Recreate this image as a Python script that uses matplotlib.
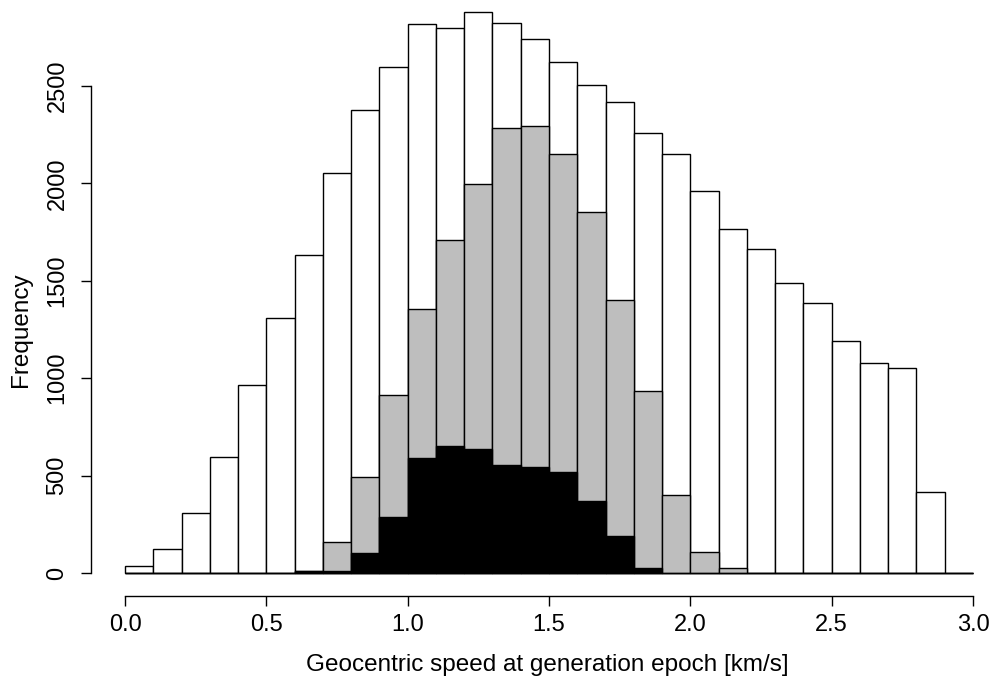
"""Stacked R-style histogram of geocentric speeds (all / subset / core)."""
import matplotlib
matplotlib.use('Agg')
import matplotlib.pyplot as plt
import numpy as np

# bin edges: 0.0 .. 3.0 in steps of 0.1
bin_edges = [round(0.1 * i, 1) for i in range(31)]

# counts per bin
counts_all = [38, 121, 306, 597, 966, 1308, 1632, 2052, 2379, 2597,
              2820, 2800, 2880, 2825, 2742, 2622, 2506, 2418, 2260, 2152,
              1961, 1764, 1665, 1489, 1385, 1193, 1080, 1054, 418, 0]
counts_gray = [0, 0, 0, 0, 0, 0, 10, 160, 495, 913,
               1356, 1707, 1996, 2286, 2296, 2150, 1854, 1401, 934, 400,
               110, 28, 0, 0, 0, 0, 0, 0, 0, 0]
counts_black = [0, 0, 0, 0, 0, 0, 8, 10, 102, 289,
                591, 650, 635, 552, 542, 521, 372, 192, 28, 0,
                0, 0, 0, 0, 0, 0, 0, 0, 0, 0]

x_ticks = [0.0, 0.5, 1.0, 1.5, 2.0, 2.5, 3.0]
y_ticks = [0, 500, 1000, 1500, 2000, 2500]

W, H = 993, 681
plt.rcParams['font.family'] = ['Liberation Sans', 'DejaVu Sans']
fig = plt.figure(figsize=(W / 100, H / 100), dpi=100)

# plot region in pixels (left, bottom-from-top, right, top)
left_px, bottom_px, right_px, top_px = 91, 596, 993, 0
ax = fig.add_axes([left_px / W, (H - bottom_px) / H,
                   (right_px - left_px) / W, (bottom_px - top_px) / H])

# data -> pixel scale: x 0 at 125 px, 3.0 at 973 px; y 0 at 573 px
px_per_x = 848 / 3.0
px_per_y = 487 / 2500
ax.set_xlim((left_px - 125) / px_per_x, 3.0 + (right_px - 973) / px_per_x)
ax.set_ylim(-(bottom_px - 573) / px_per_y, (573 - top_px) / px_per_y)

lefts = np.array(bin_edges[:-1])
width = 0.1
for counts, color in [(counts_all, 'white'), (counts_gray, '#BEBEBE'),
                      (counts_black, 'black')]:
    ax.bar(lefts, counts, width=width, align='edge', color=color,
           edgecolor='black', linewidth=1.0)

# R-like detached axes
for side in ['top', 'right']:
    ax.spines[side].set_visible(False)
ax.spines['left'].set_bounds(0, 2500)
ax.spines['bottom'].set_bounds(0, 3.0)
ax.spines['left'].set_linewidth(1.0)
ax.spines['bottom'].set_linewidth(1.0)

ax.set_xticks(x_ticks)
ax.set_xticklabels([f'{v:.1f}' for v in x_ticks])
ax.set_yticks(y_ticks)
ax.set_yticklabels([str(v) for v in y_ticks], rotation=90, va='center')
ax.tick_params(axis='both', direction='out', length=7.2, width=1.0,
               labelsize=17)
ax.tick_params(axis='x', pad=6)
ax.tick_params(axis='y', pad=9)

fig.text(547 / W, 1 - 665 / H,
         'Geocentric speed at generation epoch [km/s]',
         ha='center', va='center', fontsize=17.5)
fig.text(21.5 / W, 1 - 330 / H, 'Frequency', rotation=90,
         ha='center', va='center', fontsize=17.5)

fig.savefig('out.png', dpi=100)
